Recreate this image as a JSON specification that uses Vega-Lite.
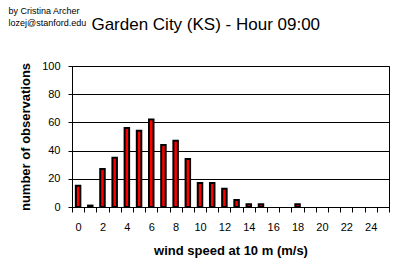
{
  "$schema": "https://vega.github.io/schema/vega-lite/v6.json",
  "autosize": {"type": "none"},
  "padding": {"left": 72, "top": 66, "right": 16, "bottom": 71},
  "width": 317,
  "height": 141,
  "background": "white",
  "title": {
    "text": "Garden City (KS) - Hour 09:00",
    "font": "Liberation Sans",
    "fontSize": 17,
    "fontWeight": "normal",
    "color": "black",
    "anchor": "middle",
    "frame": "bounds",
    "dx": 7,
    "baseline": "alphabetic",
    "offset": -41
  },
  "data": {
    "values": [
      {"speed": 0, "count": 15}, {"speed": 1, "count": 1}, {"speed": 2, "count": 27},
      {"speed": 3, "count": 35}, {"speed": 4, "count": 56}, {"speed": 5, "count": 54},
      {"speed": 6, "count": 62}, {"speed": 7, "count": 44}, {"speed": 8, "count": 47},
      {"speed": 9, "count": 34}, {"speed": 10, "count": 17}, {"speed": 11, "count": 17},
      {"speed": 12, "count": 13}, {"speed": 13, "count": 5}, {"speed": 14, "count": 2},
      {"speed": 15, "count": 2}, {"speed": 16, "count": 0}, {"speed": 17, "count": 0},
      {"speed": 18, "count": 2}, {"speed": 19, "count": 0}, {"speed": 20, "count": 0},
      {"speed": 21, "count": 0}, {"speed": 22, "count": 0}, {"speed": 23, "count": 0},
      {"speed": 24, "count": 0}, {"speed": 25, "count": 0}
    ]
  },
  "encoding": {
    "y": {
      "field": "count", "type": "quantitative",
      "scale": {"domain": [0, 100], "nice": false},
      "axis": {
        "title": "number of observations",
        "values": [0, 20, 40, 60, 80, 100],
        "grid": true,
        "labelOverlap": false,
        "tickSize": 4,
        "labelPadding": 8,
        "titlePadding": 9
      }
    }
  },
  "layer": [
    {
      "transform": [{"filter": "datum.count > 0"}],
      "mark": {"type": "bar", "size": 4.5, "fill": "#ff0000", "stroke": "black", "strokeWidth": 2},
      "encoding": {
        "x": {
          "field": "speed", "type": "ordinal",
          "scale": {"paddingInner": 0, "paddingOuter": 0},
          "axis": {
            "orient": "bottom",
            "title": "wind speed at 10 m (m/s)",
            "labelAngle": 0,
            "labelExpr": "datum.value % 2 == 0 ? datum.label : ''",
            "tickBand": "extent",
            "tickSize": 5,
            "labelPadding": 9,
            "titlePadding": 12
          }
        }
      }
    },
    {
      "mark": {"type": "bar", "opacity": 0},
      "encoding": {
        "x": {
          "field": "speed", "type": "ordinal",
          "axis": {
            "orient": "top",
            "labels": false,
            "ticks": false,
            "domain": false,
            "title": ["by Cristina Archer", "lozej@stanford.edu"],
            "titleFont": "Liberation Sans",
            "titleFontSize": 9,
            "titleFontWeight": "normal",
            "titleAnchor": "start",
            "titleAlign": "left",
            "titleBaseline": "alphabetic",
            "titleLineHeight": 12,
            "titleX": -64,
            "titleY": -53,
            "titleAngle": 0
          }
        }
      }
    }
  ],
  "resolve": {"axis": {"x": "independent"}},
  "config": {
    "view": {"stroke": "black", "strokeWidth": 1},
    "axis": {
      "domainColor": "black",
      "tickColor": "black",
      "gridColor": "black",
      "gridOpacity": 1,
      "labelColor": "black",
      "titleColor": "black",
      "labelFont": "Liberation Sans",
      "labelFontSize": 11,
      "titleFont": "Liberation Sans",
      "titleFontSize": 13,
      "titleFontWeight": "bold"
    }
  }
}
